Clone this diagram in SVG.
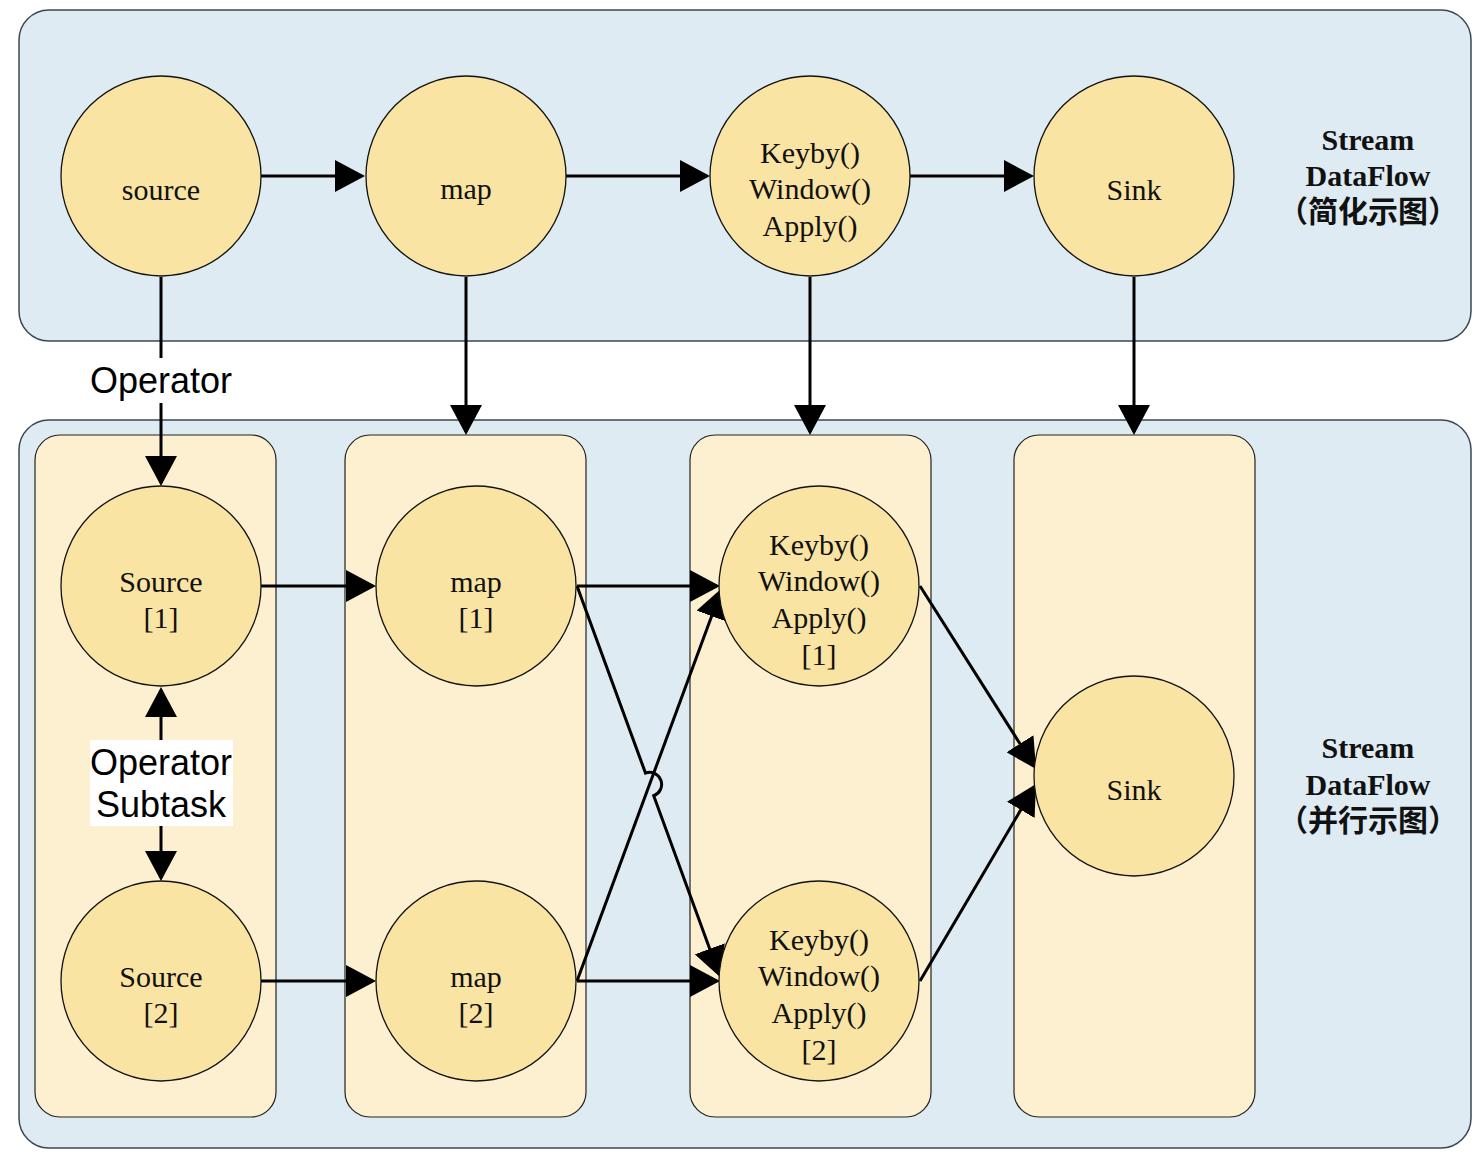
<svg xmlns="http://www.w3.org/2000/svg" width="1482" height="1160" viewBox="0 0 1482 1160">
<style>
.cont{fill:#deebf2;stroke:#3c4852;stroke-width:1.5}
.col{fill:#fcf0d0;stroke:#222;stroke-width:1.2}
.node{fill:#f9e4a3;stroke:#111;stroke-width:1.3}
.t{font-family:"Liberation Serif","Times New Roman",serif;font-size:30px;fill:#111;text-anchor:middle}
.side{font-family:"Liberation Serif","Noto Sans CJK SC",serif;font-size:30px;font-weight:bold;fill:#111;text-anchor:middle}
.lbl{font-family:"Liberation Sans",Arial,sans-serif;font-size:36px;fill:#000;text-anchor:middle}
.e{fill:none;stroke:#000;stroke-width:3}
</style>
<defs>
<marker id="ah" markerUnits="userSpaceOnUse" markerWidth="30" markerHeight="32" refX="27" refY="16" orient="auto-start-reverse" viewBox="0 0 30 32">
<path d="M0,0 L30,16 L0,32 z" fill="#000"/>
</marker>
</defs>
<rect class="cont" x="19" y="10" width="1452" height="331" rx="30"/>
<rect class="cont" x="19" y="420" width="1452" height="728" rx="30"/>
<g id="col-source"><rect class="col" x="35" y="435" width="241" height="682" rx="25"/></g>
<g id="col-map"><rect class="col" x="345" y="435" width="241" height="682" rx="25"/></g>
<g id="col-keyby"><rect class="col" x="690" y="435" width="241" height="682" rx="25"/></g>
<g id="col-sink"><rect class="col" x="1014" y="435" width="241" height="682" rx="25"/></g>
<g id="label-simple"><text class="side" x="1368" y="150">Stream</text><text class="side" x="1368" y="186">DataFlow</text><text class="side" x="1368" y="222">（简化示图）</text></g>
<g id="label-parallel"><text class="side" x="1368" y="758">Stream</text><text class="side" x="1368" y="795">DataFlow</text><text class="side" x="1368" y="831">（并行示图）</text></g>
<g id="connectors">
<path class="e" marker-end="url(#ah)" d="M261,176 H362"/>
<path class="e" marker-end="url(#ah)" d="M566,176 H707"/>
<path class="e" marker-end="url(#ah)" d="M910,176 H1031"/>
<path class="e" marker-end="url(#ah)" d="M161,277 V483"/>
<path class="e" marker-end="url(#ah)" d="M466,277 V432"/>
<path class="e" marker-end="url(#ah)" d="M810,277 V432"/>
<path class="e" marker-end="url(#ah)" d="M1134,277 V432"/>
<path class="e" marker-end="url(#ah)" d="M261,586 H373"/>
<path class="e" marker-end="url(#ah)" d="M577,586 H717"/>
<path class="e" marker-end="url(#ah)" d="M261,981 H373"/>
<path class="e" marker-end="url(#ah)" d="M577,981 H717"/>
<path class="e" marker-end="url(#ah)" d="M577,981 L721,590.8"/>
<path class="e" marker-end="url(#ah)" d="M577,586 L645.5,773.1 A12,12 0 0 1 653.7,795.7 L719,974.2"/>
<path class="e" marker-end="url(#ah)" d="M920,586 L1034.4,766.5"/>
<path class="e" marker-end="url(#ah)" d="M920,981 L1034.5,786.6"/>
<path class="e" marker-start="url(#ah)" marker-end="url(#ah)" d="M161,690 V878"/>
<rect x="90" y="358" width="143" height="45" fill="#fff"/>
<text class="lbl" x="161" y="393">Operator</text>
<rect x="90" y="740" width="143" height="86" fill="#fff"/>
<text class="lbl" x="161" y="775">Operator</text>
<text class="lbl" x="161" y="817">Subtask</text>
</g>
<g id="n-source"><circle class="node" cx="161" cy="176" r="100"/><text class="t" x="161" y="200">source</text></g>
<g id="n-map"><circle class="node" cx="466" cy="176" r="100"/><text class="t" x="466" y="199">map</text></g>
<g id="n-keyby"><circle class="node" cx="810" cy="176" r="100"/><text class="t" x="810" y="163">Keyby()</text><text class="t" x="810" y="199">Window()</text><text class="t" x="810" y="236">Apply()</text></g>
<g id="n-sink"><circle class="node" cx="1134" cy="176" r="100"/><text class="t" x="1134" y="200">Sink</text></g>
<g id="n-source1"><circle class="node" cx="161" cy="586" r="100"/><text class="t" x="161" y="592">Source</text><text class="t" x="161" y="628">[1]</text></g>
<g id="n-source2"><circle class="node" cx="161" cy="981" r="100"/><text class="t" x="161" y="987">Source</text><text class="t" x="161" y="1023">[2]</text></g>
<g id="n-map1"><circle class="node" cx="476" cy="586" r="100"/><text class="t" x="476" y="592">map</text><text class="t" x="476" y="628">[1]</text></g>
<g id="n-map2"><circle class="node" cx="476" cy="981" r="100"/><text class="t" x="476" y="987">map</text><text class="t" x="476" y="1023">[2]</text></g>
<g id="n-keyby1"><circle class="node" cx="819" cy="586" r="100"/><text class="t" x="819" y="555">Keyby()</text><text class="t" x="819" y="591">Window()</text><text class="t" x="819" y="628">Apply()</text><text class="t" x="819" y="665">[1]</text></g>
<g id="n-keyby2"><circle class="node" cx="819" cy="981" r="100"/><text class="t" x="819" y="950">Keyby()</text><text class="t" x="819" y="986">Window()</text><text class="t" x="819" y="1023">Apply()</text><text class="t" x="819" y="1060">[2]</text></g>
<g id="n-sinkp"><circle class="node" cx="1134" cy="776" r="100"/><text class="t" x="1134" y="800">Sink</text></g>
</svg>
